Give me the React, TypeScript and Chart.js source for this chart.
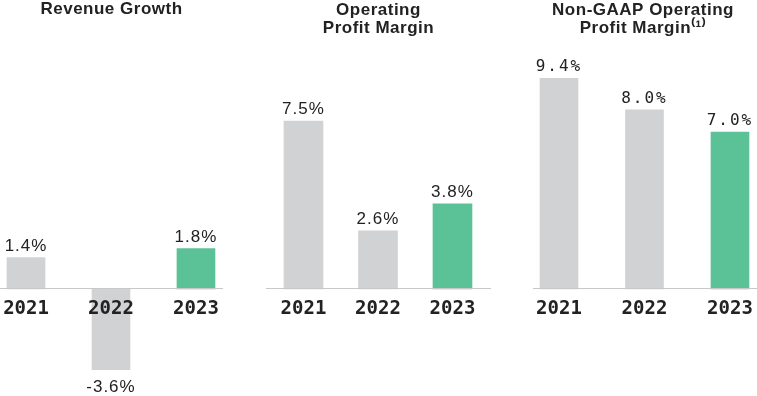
import React, { useEffect, useRef } from 'react';
import { Chart, registerables } from 'chart.js';

Chart.register(...registerables);

// ---- data ----
const years = ['2021', '2022', '2023'];
const revenueGrowth = [1.4, -3.6, 1.8];
const operatingMargin = [7.5, 2.6, 3.8];
const nonGaapMargin = [9.4, 8.0, 7.0];
const titleRevenue = ['Revenue Growth'];
const titleOperating = ['Operating', 'Profit Margin'];
const titleNonGaap = ['Non-GAAP Operating', 'Profit Margin⁽¹⁾'];

const GREY = '#d1d2d4';
const GREEN = '#5bc196';
const barColors = [GREY, GREY, GREEN];
const TEXT = '#222222';

type PanelProps = {
  values: number[];
  title: string[];
  left: number;
  width: number;
  xMin: number;
  xMax: number;
  barWidth: number;
  valueFont: string;
  valueSpacing: string;
  titleDx?: number;
};

function Panel(props: PanelProps) {
  const ref = useRef<HTMLCanvasElement>(null);
  useEffect(() => {
    const { values, title, xMin, xMax, barWidth, valueFont, valueSpacing } = props;
    const titleDx = props.titleDx ?? 0;
    const textPlugin = {
      id: 'panelText',
      afterDatasetsDraw(chart: any) {
        const ctx = chart.ctx as CanvasRenderingContext2D;
        const meta = chart.getDatasetMeta(0);
        ctx.save();
        ctx.fillStyle = TEXT;
        ctx.font = valueFont;
        (ctx as any).letterSpacing = valueSpacing;
        ctx.textAlign = 'center';
        meta.data.forEach((el: any, i: number) => {
          const v = values[i];
          const label = v.toFixed(1) + '%';
          if (v >= 0) {
            ctx.textBaseline = 'alphabetic';
            ctx.fillText(label, el.x, el.y - 7);
          } else {
            ctx.textBaseline = 'top';
            ctx.fillText(label, el.x, el.y + 9);
          }
        });
        ctx.restore();
      },
      afterDraw(chart: any) {
        const ctx = chart.ctx as CanvasRenderingContext2D;
        const ca = chart.chartArea;
        const cx = (ca.left + ca.right) / 2 + titleDx;
        ctx.save();
        ctx.fillStyle = TEXT;
        ctx.font = 'bold 17px "Liberation Sans", Arial, sans-serif';
        (ctx as any).letterSpacing = '0.5px';
        ctx.textAlign = 'center';
        ctx.textBaseline = 'alphabetic';
        title.forEach((line, i) => {
          ctx.fillText(line, cx, (title.length === 1 ? 14 : 15) + i * 18);
        });
        ctx.restore();
      },
    };
    const chart = new Chart(ref.current!, {
      type: 'bar',
      data: {
        datasets: [
          {
            data: values.map((v, i) => ({ x: i, y: v })),
            backgroundColor: barColors,
            barThickness: barWidth,
            borderWidth: 0,
          },
        ],
      },
      options: {
        animation: false,
        responsive: true,
        maintainAspectRatio: false,
        layout: { padding: { top: 65, bottom: 21, left: 0, right: 0 } },
        plugins: {
          legend: { display: false },
          tooltip: { enabled: false },
          title: { display: false },
        },
        scales: {
          x: {
            type: 'linear',
            offset: false,
            position: { y: 0 },
            min: xMin,
            max: xMax,
            grid: { display: false, drawTicks: true, tickLength: 9, offset: false },
            border: { display: true, color: '#c8c8c8', width: 1, z: 1 },
            ticks: {
              z: 1,
              stepSize: 1,
              includeBounds: false,
              autoSkip: false,
              maxRotation: 0,
              padding: 0,
              color: TEXT,
              font: { family: '"DejaVu Sans Mono", monospace', weight: 'bold', size: 19 },
              callback: (v: any) => years[Number(v)] ?? '',
            },
          },
          y: { display: false, min: -3.84, max: 10 },
        },
      } as any,
      plugins: [textPlugin],
    });
    return () => chart.destroy();
  }, []);
  return (
    <div
      style={{
        position: 'absolute',
        left: props.left,
        top: 0,
        width: props.width,
        height: 396,
      }}
    >
      <canvas ref={ref} style={{ display: 'block' }} />
    </div>
  );
}

export default function App() {
  return (
    <div style={{ position: 'absolute', left: 0, top: 0, width: 757, height: 396, background: '#fff', overflow: 'hidden' }}>
      <Panel
        values={revenueGrowth}
        title={titleRevenue}
        left={0}
        width={223}
        xMin={-0.306}
        xMax={2.318}
        barWidth={38}
        valueFont='17px "Liberation Sans", Arial, sans-serif'
        valueSpacing="1px"
      />
      <Panel
        values={operatingMargin}
        title={titleOperating}
        left={266}
        width={225}
        xMin={-0.503}
        xMax={2.517}
        barWidth={39}
        valueFont='17px "Liberation Sans", Arial, sans-serif'
        valueSpacing="1px"
      />
      <Panel
        values={nonGaapMargin}
        title={titleNonGaap}
        left={533}
        width={224}
        xMin={-0.304}
        xMax={2.316}
        barWidth={38}
        titleDx={-2}
        valueFont='16px "DejaVu Sans Mono", monospace'
        valueSpacing="2px"
      />
    </div>
  );
}
